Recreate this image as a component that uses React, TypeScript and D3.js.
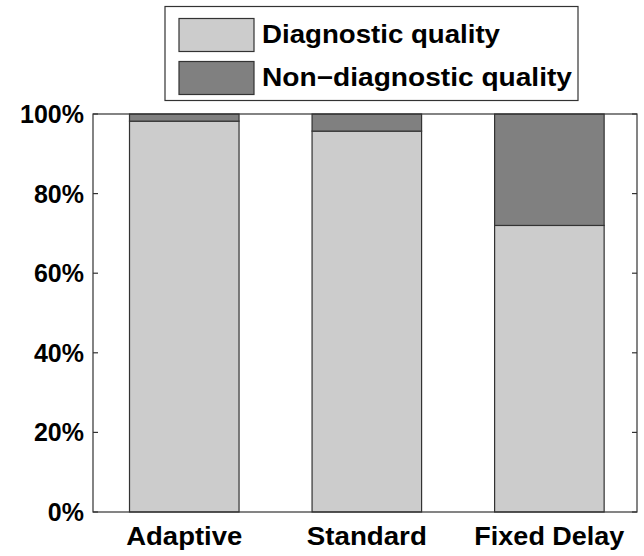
import React from 'react';
import * as d3 from 'd3';

const categories = ['Adaptive', 'Standard', 'Fixed Delay'];
const categoryWidths = [116, 120, 150];
const diagnostic = [98.2, 95.7, 72.0];
const nonDiagnostic = [1.8, 4.3, 28.0];
const yTicks = [0, 20, 40, 60, 80, 100];
const seriesNames = ['Diagnostic quality', 'Non\u2212diagnostic quality'];
const seriesWidths = [238, 310];
const seriesColors = ['#cccccc', '#808080'];

const W = 644;
const H = 556;
const L = 93, R = 637, T = 114, B = 512;
const FONT = 'Liberation Sans, Arial, Helvetica, sans-serif';

export default function App() {
  const x = d3.scaleLinear().domain([0.5, 3.48]).range([L, R]);
  const y = d3.scaleLinear().domain([0, 100]).range([B, T]);
  const unit = x(2) - x(1);
  const bw = unit * 0.6;
  const stack = d3.stack<any>().keys(['d', 'n'])(
    categories.map((c, i) => ({ c, d: diagnostic[i], n: nonDiagnostic[i] }))
  );

  return (
    <svg width={W} height={H} style={{ position: 'absolute', left: 0, top: 0, background: '#fff' }}>
      <rect x={0} y={0} width={W} height={H} fill="#fff" />
      {stack.map((layer, si) =>
        layer.map((seg, i) => (
          <rect
            key={`${si}-${i}`}
            x={x(i + 1) - bw / 2}
            y={y(seg[1])}
            width={bw}
            height={y(seg[0]) - y(seg[1])}
            fill={seriesColors[si]}
            stroke="#333"
            strokeWidth={1.2}
          />
        ))
      )}
      <rect x={L} y={T} width={R - L} height={B - T} fill="none" stroke="#333" strokeWidth={1.2} />
      {yTicks.map((t) => (
        <g key={t}>
          <line x1={L} x2={L + 5} y1={y(t)} y2={y(t)} stroke="#333" strokeWidth={1.2} />
          <line x1={R} x2={R - 5} y1={y(t)} y2={y(t)} stroke="#333" strokeWidth={1.2} />
          <text
            x={L - 9}
            y={y(t)}
            dy="0.36em"
            textAnchor="end"
            fontFamily={FONT}
            fontWeight="bold"
            fontSize={25}
            fill="#000"
          >
            {t}%
          </text>
        </g>
      ))}
      {categories.map((c, i) => (
        <text
          key={c}
          x={x(i + 1)}
          y={545}
          textAnchor="middle"
          textLength={categoryWidths[i]}
          lengthAdjust="spacingAndGlyphs"
          fontFamily={FONT}
          fontWeight="bold"
          fontSize={25}
          fill="#000"
        >
          {c}
        </text>
      ))}
      <rect x={165} y={6.5} width={413} height={94} fill="#fff" stroke="#333" strokeWidth={1.2} />
      {seriesNames.map((s, i) => (
        <g key={s}>
          <rect
            x={179}
            y={i === 0 ? 18.5 : 61.5}
            width={75}
            height={33}
            fill={seriesColors[i]}
            stroke="#333"
            strokeWidth={1.2}
          />
          <text
            x={262}
            y={i === 0 ? 43 : 86}
            textLength={seriesWidths[i]}
            lengthAdjust="spacingAndGlyphs"
            fontFamily={FONT}
            fontWeight="bold"
            fontSize={25.5}
            fill="#000"
          >
            {s}
          </text>
        </g>
      ))}
    </svg>
  );
}
